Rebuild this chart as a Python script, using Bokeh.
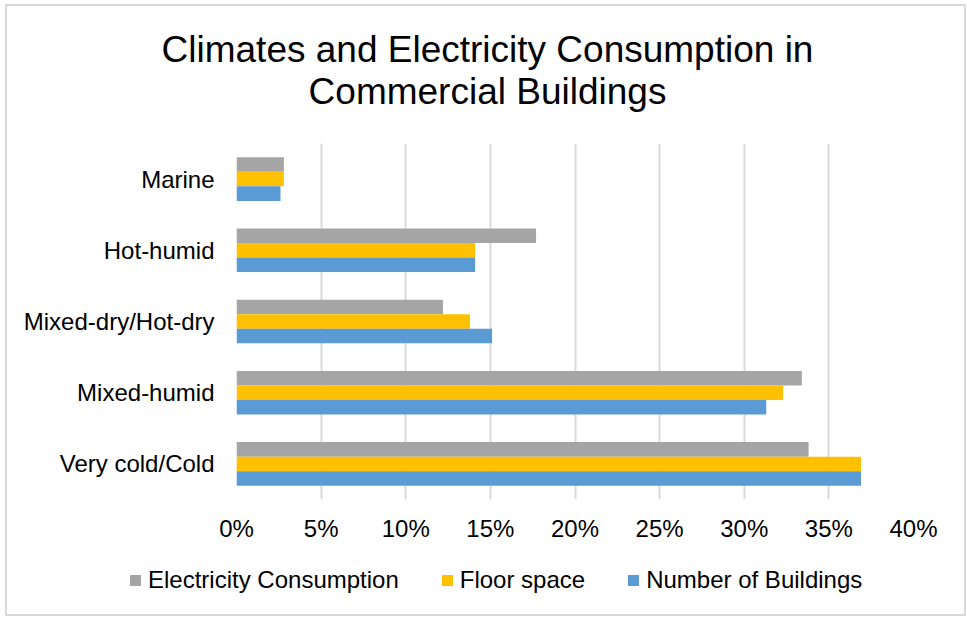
from bokeh.plotting import figure
from bokeh.layouts import column
from bokeh.models import (ColumnDataSource, FactorRange, Range1d, FixedTicker,
                          NumeralTickFormatter, Div)
from bokeh.transform import dodge
from bokeh.embed import file_html
from bokeh.resources import INLINE

# ---- data ----
climates = ["Marine", "Hot-humid", "Mixed-dry/Hot-dry", "Mixed-humid", "Very cold/Cold"]
electricity = [0.028, 0.177, 0.122, 0.334, 0.338]
floor_space = [0.028, 0.141, 0.138, 0.323, 0.369]
buildings = [0.026, 0.141, 0.151, 0.313, 0.369]
series_names = ["Electricity Consumption", "Floor space", "Number of Buildings"]
x_ticks = [0, 0.05, 0.10, 0.15, 0.20, 0.25, 0.30, 0.35, 0.40]
title_lines = ["Climates and Electricity Consumption in", "Commercial Buildings"]

colors = ["#A5A5A5", "#FFC000", "#5B9BD5"]
FONT = "Liberation Sans"
W = 957

# ---- title ----
title_html = (
    f"<div style=\"font-family:'{FONT}';font-size:37px;line-height:42px;"
    f"text-align:center;color:#000;width:{W - 4}px;margin-left:4px;padding-top:23px;\">"
    + "<br>".join(title_lines) + "</div>")
title_div = Div(text=title_html, width=W, height=137, margin=0)

# ---- main chart ----
source = ColumnDataSource(dict(climate=climates, elec=electricity,
                               floor=floor_space, bld=buildings))
factors = list(reversed(climates))
p = figure(width=W, height=408, output_backend="svg", toolbar_location=None,
           y_range=FactorRange(factors=factors), x_range=Range1d(0, 0.40),
           min_border_left=229, min_border_right=51, min_border_top=0,
           min_border_bottom=52, margin=0)

bh = 0.204
p.hbar(y=dodge("climate", bh, range=p.y_range), right="elec", left=0,
       height=bh, source=source, fill_color=colors[0], line_color=None)
p.hbar(y=dodge("climate", 0, range=p.y_range), right="floor", left=0,
       height=bh, source=source, fill_color=colors[1], line_color=None)
p.hbar(y=dodge("climate", -bh, range=p.y_range), right="bld", left=0,
       height=bh, source=source, fill_color=colors[2], line_color=None)

p.outline_line_color = None
p.xgrid.ticker = FixedTicker(ticks=x_ticks)
p.xgrid.grid_line_color = "#d9d9d9"
p.xgrid.grid_line_width = 2
p.ygrid.grid_line_color = None

p.xaxis.ticker = FixedTicker(ticks=x_ticks)
p.xaxis.formatter = NumeralTickFormatter(format="0%")
for ax in (p.xaxis[0], p.yaxis[0]):
    ax.axis_line_color = None
    ax.major_tick_line_color = None
    ax.minor_tick_line_color = None
    ax.major_label_text_font = FONT
    ax.major_label_text_font_size = "24px"
    ax.major_label_text_color = "#000000"
p.xaxis.major_label_standoff = 9
p.yaxis.major_label_standoff = 16

# ---- legend ----
items = []
for i, (name, col) in enumerate(zip(series_names, colors)):
    gap = "0" if i == len(series_names) - 1 else "43px"
    items.append(
        f"<span style=\"display:inline-block;width:11px;height:11px;background:{col};"
        f"margin-right:7px;\"></span>"
        f"<span style=\"margin-right:{gap};\">{name}</span>")
legend_html = (
    f"<div style=\"position:relative;width:{W}px;height:63px;\">"
    f"<div style=\"position:absolute;top:17px;left:123px;height:24px;display:flex;"
    f"align-items:center;white-space:nowrap;font-family:'{FONT}';font-size:24px;"
    f"line-height:24px;color:#000;\">" + "".join(items) + "</div></div>")
legend_div = Div(text=legend_html, width=W, height=63, margin=0)

layout = column(title_div, p, legend_div, spacing=0)
layout.styles = {"margin-left": "5px", "margin-top": "4px",
                 "border": "2px solid #d9d9d9"}

open("out.html", "w").write(file_html(layout, INLINE))
